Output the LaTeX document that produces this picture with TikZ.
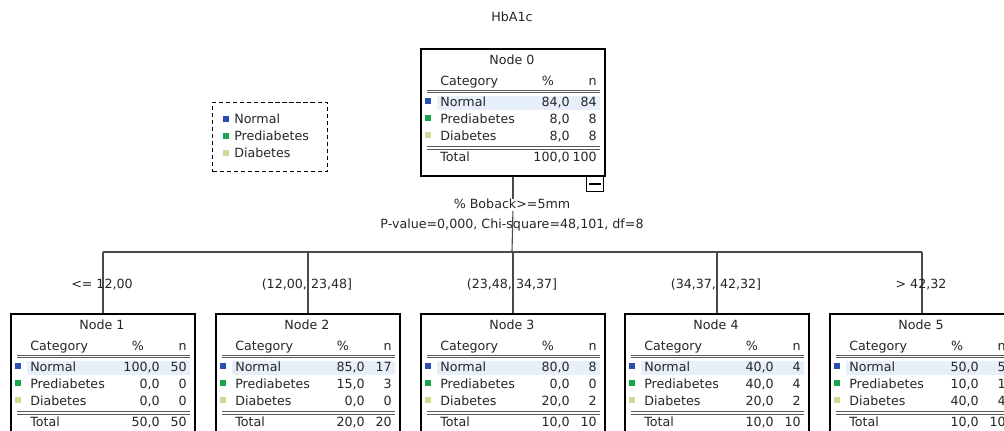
\documentclass[tikz,border=0pt]{standalone}
\usepackage{fontspec}
\setmainfont{DejaVu Sans}
\usetikzlibrary{calc,positioning}

\definecolor{catnormal}{HTML}{2B4EB3}
\definecolor{catpre}{HTML}{17A64A}
\definecolor{catdia}{HTML}{D8D696}
\definecolor{rowhi}{HTML}{E6EFFA}
\definecolor{linkgray}{HTML}{4A4A4A}

\tikzset{
  txt/.style={inner sep=0pt, text=black!85, text height=6.6pt, text depth=1.8pt,
    font=\fontsize{9}{10}\selectfont},
  treebox/.style={draw, line width=1.3pt, fill=white, anchor=north west,
    minimum width=4.6cm, minimum height=3.175cm, inner sep=0pt},
  tablerule/.style={draw=black!65, line width=0.5pt},
  swatch/.style={minimum size=4.5pt, inner sep=0pt},
  link/.style={draw=linkgray, line width=0.8pt},
}

% #1 node number, then % and n for Normal, Prediabetes, Diabetes, Total
\newcommand\cattable[9]{%
\begin{scope}[shift={(n#1.north west)}]
  \fill[rowhi] (17,48) rectangle (180,62);
  \node[txt] (n#1-title) at (92,13) {Node #1};
  \node[txt,anchor=west] (n#1-cat) at (20,34) {Category};
  \node[txt] (n#1-pct) at (128,34) {\%};
  \node[txt,anchor=east] (n#1-n) at (177,34) {n};
  \draw[tablerule] (7,42) -- (180,42) (7,44.5) -- (180,44.5);
  \node[swatch,fill=catnormal] (n#1-s1) at (8,53) {};
  \node[txt,anchor=west] (n#1-c1) at (20,55) {Normal};
  \node[txt,anchor=east] (n#1-p1) at (150,55) {#2};
  \node[txt,anchor=east] (n#1-k1) at (177,55) {#3};
  \node[swatch,fill=catpre] (n#1-s2) at (8,70) {};
  \node[txt,anchor=west] (n#1-c2) at (20,72) {Prediabetes};
  \node[txt,anchor=east] (n#1-p2) at (150,72) {#4};
  \node[txt,anchor=east] (n#1-k2) at (177,72) {#5};
  \node[swatch,fill=catdia] (n#1-s3) at (8,87) {};
  \node[txt,anchor=west] (n#1-c3) at (20,89) {Diabetes};
  \node[txt,anchor=east] (n#1-p3) at (150,89) {#6};
  \node[txt,anchor=east] (n#1-k3) at (177,89) {#7};
  \draw[tablerule] (7,98.5) -- (180,98.5) (7,101) -- (180,101);
  \node[txt,anchor=west] (n#1-tot) at (20,110) {Total};
  \node[txt,anchor=east] (n#1-pt) at (150,110) {#8};
  \node[txt,anchor=east] (n#1-kt) at (177,110) {#9};
\end{scope}}

\begin{document}
\begin{tikzpicture}[x=0.025cm, y=-0.025cm]
\useasboundingbox (0,0) rectangle (1004,430);
\clip (0,0) rectangle (1004,430);

\node[txt] (title) at (512,18) {HbA1c};

% legend
\node[draw, line width=0.9pt, dash pattern=on 3pt off 2pt,
  minimum width=2.875cm, minimum height=1.725cm] (legend) at (270,137) {};
\node[swatch,fill=catnormal] (l1) at (226,119) {};
\node[txt,anchor=west] (l1t) at (234,120) {Normal};
\node[swatch,fill=catpre] (l2) at (226,136) {};
\node[txt,anchor=west] (l2t) at (234,137) {Prediabetes};
\node[swatch,fill=catdia] (l3) at (226,153) {};
\node[txt,anchor=west] (l3t) at (234,154) {Diabetes};

% root and split
\node[treebox] (n0) at (420,48) {};
\cattable{0}{84,0}{84}{8,0}{8}{8,0}{8}{100,0}{100}
\node[draw, line width=0.9pt, fill=white, anchor=north east,
  minimum width=0.42cm, minimum height=0.37cm, inner sep=0pt] (toggle) at (604,176) {};
\draw[line width=1.5pt] ([xshift=2pt]toggle.west) -- ([xshift=-2pt]toggle.east);

\node[txt] (split) at (512,205) {\% Boback>=5mm};
\node[txt] (stat) at (512,225) {P-value=0,000, Chi-square=48,101, df=8};
\coordinate (fork) at (512,252);

% children
\node[treebox] (n1) at (10,313) {};
\node[treebox] (n2) at (215,313) {};
\node[treebox] (n3) at (420,313) {};
\node[treebox] (n4) at (624,313) {};
\node[treebox] (n5) at (829,313) {};

\draw[link] (n0.south) -- (n0.south |- split.north);
\draw[link] (n0.south |- split.south) -- (fork);
\draw[link] (n1.north |- fork) -- (n5.north |- fork);
\foreach \i in {1,...,5}
  \draw[link] (n\i.north |- fork) -- (n\i.north);

\node[txt] (b1) at (102,285) {<= 12,00};
\node[txt] (b2) at (307,285) {(12,00, 23,48]};
\node[txt] (b3) at (512,285) {(23,48, 34,37]};
\node[txt] (b4) at (716,285) {(34,37, 42,32]};
\node[txt] (b5) at (921,285) {> 42,32};

\cattable{1}{100,0}{50}{0,0}{0}{0,0}{0}{50,0}{50}
\cattable{2}{85,0}{17}{15,0}{3}{0,0}{0}{20,0}{20}
\cattable{3}{80,0}{8}{0,0}{0}{20,0}{2}{10,0}{10}
\cattable{4}{40,0}{4}{40,0}{4}{20,0}{2}{10,0}{10}
\cattable{5}{50,0}{5}{10,0}{1}{40,0}{4}{10,0}{10}
\end{tikzpicture}
\end{document}
